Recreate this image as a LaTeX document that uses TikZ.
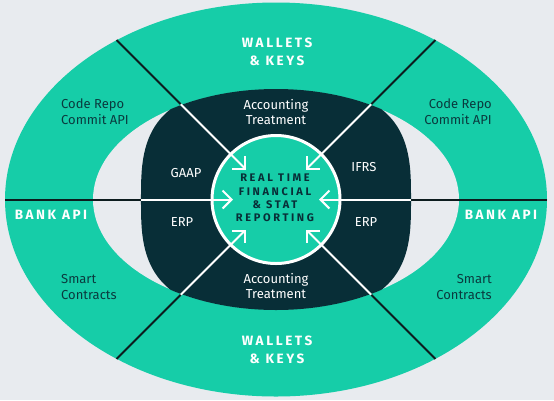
\documentclass[tikz,border=0pt]{standalone}
\usepackage{fontspec}
\setmainfont{Fira Sans}
\newfontfamily\capsf[LetterSpace=19]{Fira Sans}
\newfontfamily\corecf[LetterSpace=24]{Fira Sans}
\usetikzlibrary{arrows.meta}
\definecolor{bgc}{RGB}{232,235,239}
\definecolor{tealc}{RGB}{22,205,168}
\definecolor{darkc}{RGB}{8,46,55}
\definecolor{linec}{RGB}{12,28,30}
\definecolor{txtc}{RGB}{10,58,62}
\tikzset{
  blackline/.style={draw=linec, line width=2pt},
  whitearrow/.style={draw=white, line width=2pt, -{Straight Barb[length=9pt,width=18pt,line width=2pt]}},
  heading/.style={text=white, font=\capsf\bfseries\fontsize{13.5}{18}\selectfont, align=center, inner sep=0pt},
  tlabel/.style={text=txtc, font=\fontsize{13}{16}\selectfont, inner sep=0pt},
  dlabel/.style={text=white, font=\fontsize{13}{14.5}\selectfont, align=center, inner sep=0pt},
  centertext/.style={text=darkc, font=\corecf\bfseries\fontsize{11}{13.4}\selectfont, align=center, inner sep=0pt}
}
\begin{document}
\begin{tikzpicture}[x=1pt,y=-1pt]
\useasboundingbox[fill=bgc] (0,0) rectangle (554,400);
% outer ring
\fill[tealc] (276,199.5) ellipse[x radius=271, y radius=197];
% hole
\fill[bgc] (276,199.5) ellipse[x radius=183, y radius=110];
% dark superellipse, clipped by the hole ellipse
\begin{scope}
  \clip (276,199.5) ellipse[x radius=183, y radius=110.5];
  \fill[darkc] plot[domain=0.5:360.5, samples=361, variable=\t]
    ({276+135*sign(cos(\t))*abs(cos(\t))^(0.6667)}, {199.5+112*sign(sin(\t))*abs(sin(\t))^(0.6667)}) -- cycle;
\end{scope}
% inner circle
\node[circle, fill=tealc, draw=white, line width=3pt, minimum size=128pt, inner sep=0pt] (core) at (276,199.5) {};

% coordinates
\coordinate (oL) at (5,199.5);
\coordinate (jL) at (141,199.5);
\coordinate (tL) at (233,199.5);
\coordinate (oR) at (547,199.5);
\coordinate (jR) at (411,199.5);
\coordinate (tR) at (319,199.5);
\coordinate (oTL) at (116.6,40.1);
\coordinate (jTL) at (180.8,104.3);
\coordinate (tTL) at (246,169.5);
\coordinate (oTR) at (435.4,40.1);
\coordinate (jTR) at (371.2,104.3);
\coordinate (tTR) at (306,169.5);
\coordinate (oBL) at (116.6,358.9);
\coordinate (jBL) at (180.8,294.7);
\coordinate (tBL) at (246,229.5);
\coordinate (oBR) at (435.4,358.9);
\coordinate (jBR) at (371.2,294.7);
\coordinate (tBR) at (306,229.5);

\foreach \s in {L,R,TL,TR,BL,BR}{
  \draw[blackline] (o\s) -- (j\s);
  \draw[whitearrow] (j\s) -- (t\s);
}

% texts
\node[heading] (wtop) at (277,52) {WALLETS\\\& KEYS};
\node[heading] (wbot) at (277,349.5) {WALLETS\\\& KEYS};
\node[heading] (bankl) at (51,215) {BANK API};
\node[heading] (bankr) at (501,215) {BANK API};
\node[tlabel, anchor=west, align=left] (crl) at (61,112) {Code Repo\\Commit API};
\node[tlabel, anchor=east, align=right] (crr) at (492,112) {Code Repo\\Commit API};
\node[tlabel, anchor=west, align=left] (scl) at (61,287) {Smart\\Contracts};
\node[tlabel, anchor=east, align=right] (scr) at (492,287) {Smart\\Contracts};
\node[dlabel] (att) at (276,112) {Accounting\\Treatment};
\node[dlabel] (atb) at (276,286) {Accounting\\Treatment};
\node[dlabel] (gaap) at (186,173) {GAAP};
\node[dlabel] (ifrs) at (364,167) {IFRS};
\node[dlabel] (erpl) at (182,222) {ERP};
\node[dlabel] (erpr) at (366,222) {ERP};
\node[centertext] (ctext) at (275,198) {REAL TIME\\FINANCIAL\\\& STAT\\REPORTING};
\end{tikzpicture}
\end{document}
